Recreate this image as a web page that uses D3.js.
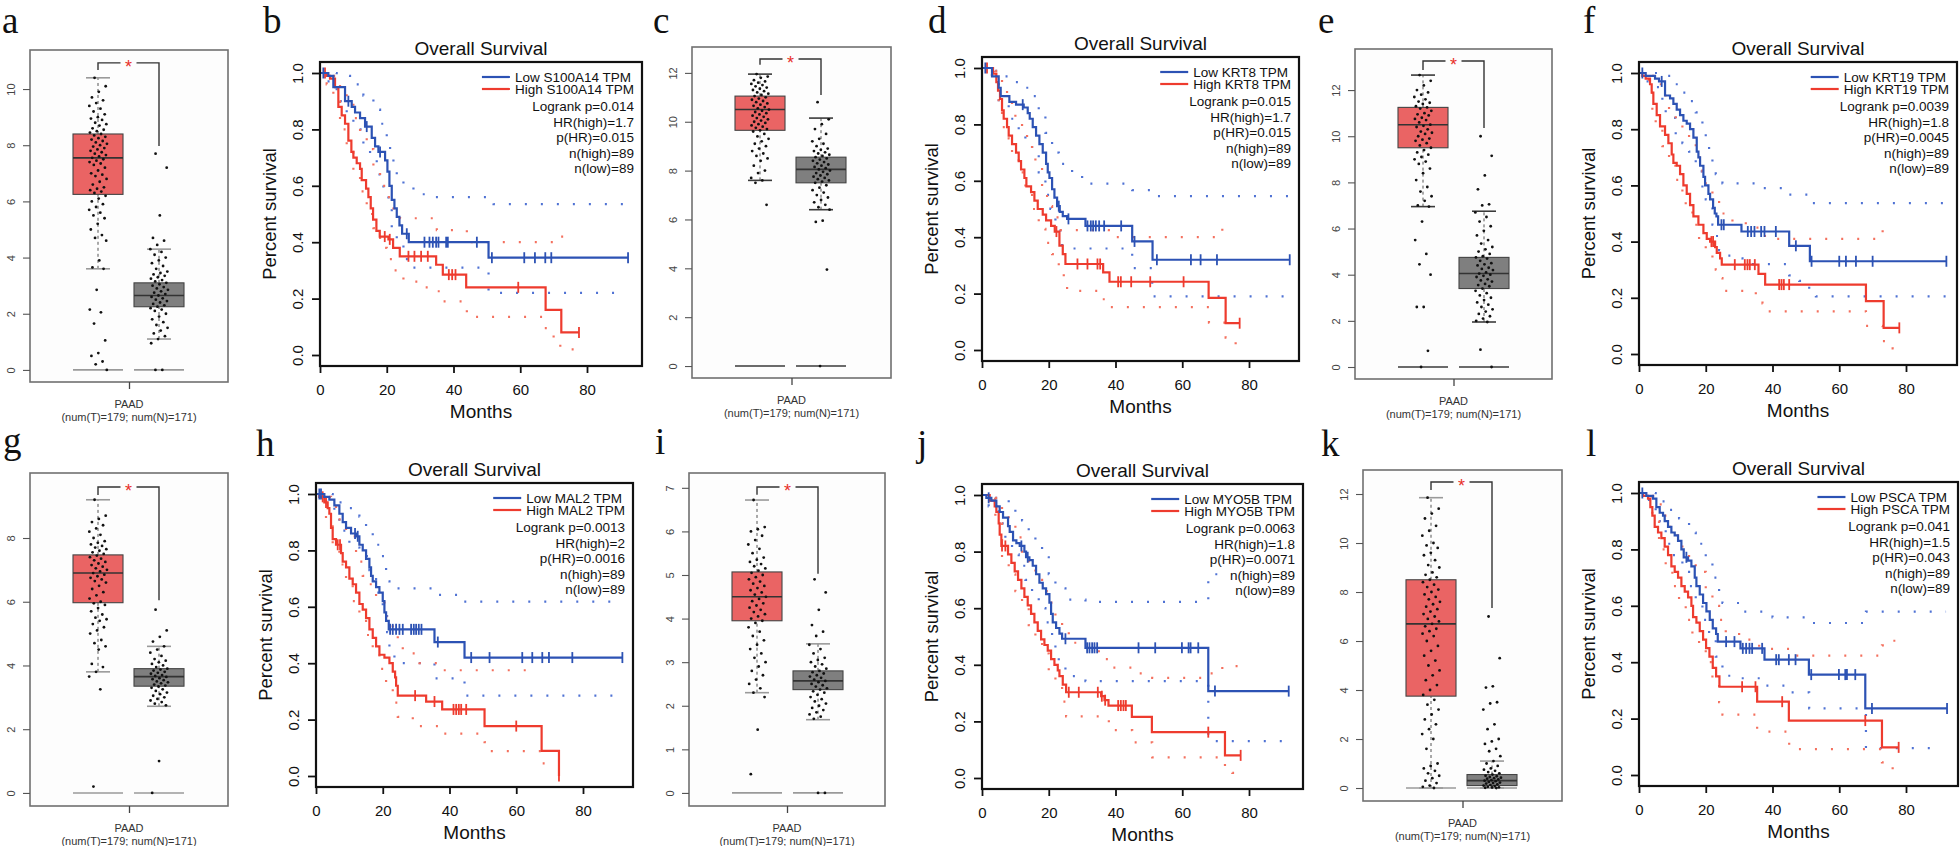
<!DOCTYPE html>
<html><head><meta charset="utf-8">
<script src="https://cdn.jsdelivr.net/npm/d3@7"></script>
<style>body{margin:0;background:#fff}svg{display:block}</style>
</head><body><svg id="fig" width="1960" height="846"></svg>
<script>
// ===================== DATA =====================
const groups = ["T", "N"];
const boxXLabel = "PAAD";
const boxXSub = "(num(T)=179; num(N)=171)";
const kmXTicks = [0, 20, 40, 60, 80];
const kmYTicks = [0, 0.2, 0.4, 0.6, 0.8, 1.0];
const kmTitle = "Overall Survival";
const kmXLabel = "Months";
const kmYLabel = "Percent survival";

// ---- box panels: jitter values, box stats [lowWhisker, Q1, median, Q3, highWhisker], bracket [T end, top, N end]
const a_T = [10.4,10.1,9.9,9.7,9.6,9.5,9.4,9.3,9.2,9.1,9.0,8.95,8.9,8.8,8.75,8.7,8.6,8.55,8.5,8.45,8.4,8.35,8.3,8.25,8.2,8.15,8.1,8.05,8.0,7.95,7.9,7.85,7.8,7.75,7.7,7.65,7.6,7.55,7.5,7.45,7.4,7.35,7.3,7.2,7.1,7.0,6.95,6.9,6.8,6.7,6.6,6.5,6.45,6.4,6.35,6.3,6.2,6.1,6.0,5.9,5.8,5.7,5.6,5.5,5.4,5.2,5.0,4.8,4.7,4.6,3.9,3.65,3.6,2.85,2.15,2.05,1.65,1.05,0.6,0.5,0.3,0.2,0];
const a_N = [7.7,7.2,5.5,4.7,4.6,4.45,4.3,4.2,4.1,4.0,3.9,3.8,3.7,3.6,3.5,3.45,3.4,3.35,3.3,3.25,3.2,3.15,3.1,3.05,3.0,2.95,2.9,2.85,2.8,2.75,2.7,2.65,2.6,2.55,2.5,2.45,2.4,2.35,2.3,2.25,2.2,2.15,2.1,2.0,1.9,1.8,1.7,1.6,1.5,1.4,1.3,1.2,1.1,0.95,0,0];
const a_boxT = [3.6, 6.25, 7.55, 8.4, 10.4];
const a_boxN = [1.1, 2.25, 2.65, 3.1, 4.3];
const a_bracket = [10.68, 10.93, 7.97];
const a_yTicks = [0, 2, 4, 6, 8, 10];

const c_T = [11.95,11.85,11.8,11.7,11.65,11.6,11.55,11.5,11.45,11.4,11.35,11.3,11.25,11.2,11.15,11.1,11.05,11.0,10.95,10.9,10.85,10.8,10.75,10.7,10.65,10.6,10.55,10.5,10.45,10.4,10.35,10.3,10.25,10.2,10.15,10.1,10.05,10.0,9.95,9.9,9.85,9.8,9.75,9.7,9.65,9.6,9.5,9.4,9.3,9.2,9.1,9.0,8.9,8.8,8.7,8.6,8.5,8.4,8.2,8.0,7.9,7.7,7.6,7.5,6.6];
const c_N = [10.8,10.1,9.9,9.7,9.5,9.3,9.2,9.1,9.0,8.9,8.85,8.8,8.75,8.7,8.65,8.6,8.55,8.5,8.45,8.4,8.35,8.3,8.25,8.2,8.15,8.1,8.05,8.0,7.95,7.9,7.85,7.8,7.75,7.7,7.65,7.6,7.55,7.5,7.4,7.3,7.2,7.1,7.0,6.9,6.8,6.7,6.6,6.5,6.4,5.95,5.9,3.95,0];
const c_boxT = [7.6, 9.65, 10.5, 11.05, 11.95];
const c_boxN = [6.4, 7.5, 8.05, 8.55, 10.15];
const c_bracket = [12.33, 12.57, 11.1];
const c_yTicks = [0, 2, 4, 6, 8, 10, 12];

const e_T = [12.65,12.4,12.2,12.0,11.9,11.8,11.7,11.6,11.5,11.45,11.4,11.3,11.25,11.2,11.1,11.0,10.95,10.9,10.8,10.75,10.7,10.6,10.5,10.45,10.4,10.3,10.2,10.15,10.1,10.0,9.9,9.85,9.8,9.7,9.6,9.5,9.4,9.3,9.2,9.1,9.0,8.9,8.8,8.6,8.4,8.1,7.8,7.6,7.4,7.2,7.0,6.95,6.3,5.5,4.9,4.45,4.0,2.6,2.6,0.7,0];
const e_N = [10.0,9.15,8.3,7.7,7.05,7.0,6.7,6.5,6.3,6.1,5.9,5.7,5.5,5.35,5.2,5.1,5.0,4.9,4.8,4.75,4.7,4.6,4.5,4.45,4.4,4.3,4.25,4.2,4.1,4.05,4.0,3.95,3.9,3.8,3.75,3.7,3.6,3.55,3.5,3.4,3.3,3.2,3.1,3.0,2.9,2.8,2.7,2.6,2.5,2.4,2.3,2.2,2.1,2.0,1.95,0.75,0];
const e_boxT = [6.95, 9.5, 10.5, 11.25, 12.65];
const e_boxN = [1.95, 3.4, 4.05, 4.75, 6.75];
const e_bracket = [12.87, 13.26, 10.36];
const e_yTicks = [0, 2, 4, 6, 8, 10, 12];

const g_T = [9.2,8.7,8.6,8.5,8.4,8.3,8.2,8.1,8.0,7.9,7.85,7.8,7.75,7.7,7.65,7.6,7.55,7.5,7.45,7.4,7.35,7.3,7.25,7.2,7.15,7.1,7.05,7.0,6.95,6.9,6.85,6.8,6.75,6.7,6.65,6.6,6.5,6.4,6.3,6.2,6.1,6.0,5.95,5.9,5.8,5.7,5.6,5.5,5.45,5.4,5.3,5.2,5.1,5.0,4.8,4.7,4.6,4.5,4.05,3.95,3.8,3.65,3.25,0.2];
const g_N = [5.75,5.1,4.9,4.75,4.6,4.5,4.4,4.3,4.2,4.15,4.1,4.05,4.0,3.95,3.9,3.87,3.84,3.8,3.77,3.74,3.7,3.67,3.64,3.6,3.57,3.54,3.5,3.47,3.44,3.4,3.37,3.34,3.3,3.25,3.2,3.15,3.1,3.05,3.0,2.95,2.9,2.85,2.8,2.75,1.0,0];
const g_boxT = [3.8, 5.97, 6.9, 7.47, 9.2];
const g_boxN = [2.72, 3.35, 3.65, 3.9, 4.6];
const g_bracket = [9.35, 9.6, 6.05];
const g_yTicks = [0, 2, 4, 6, 8];

const i_T = [6.72,6.1,6.05,6.0,5.9,5.8,5.7,5.6,5.5,5.4,5.35,5.3,5.25,5.2,5.15,5.1,5.05,5.0,4.95,4.9,4.85,4.8,4.75,4.7,4.65,4.6,4.55,4.5,4.45,4.4,4.35,4.3,4.25,4.2,4.15,4.1,4.05,4.0,3.95,3.9,3.8,3.7,3.6,3.5,3.4,3.3,3.2,3.1,3.0,2.9,2.8,2.7,2.6,2.5,2.4,2.3,2.2,1.45,0.43];
const i_N = [4.9,4.6,4.2,3.85,3.7,3.6,3.4,3.3,3.2,3.1,3.05,3.0,2.95,2.9,2.85,2.8,2.77,2.74,2.7,2.67,2.64,2.6,2.57,2.54,2.5,2.47,2.44,2.4,2.37,2.33,2.3,2.25,2.2,2.15,2.1,2.05,2.0,1.95,1.9,1.85,1.8,1.75,1.7,0,0];
const i_boxT = [2.3, 3.95, 4.5, 5.07, 6.72];
const i_boxN = [1.68, 2.37, 2.57, 2.8, 3.42];
const i_bracket = [6.84, 7.02, 5.03];
const i_yTicks = [0, 1, 2, 3, 4, 5, 6, 7];

const k_T = [11.85,11.4,11.2,11.0,10.7,10.5,10.3,10.0,9.9,9.8,9.6,9.5,9.3,9.1,9.0,8.8,8.7,8.6,8.5,8.4,8.3,8.2,8.1,8.0,7.9,7.8,7.7,7.6,7.5,7.4,7.3,7.2,7.1,7.0,6.9,6.8,6.7,6.6,6.5,6.4,6.3,6.2,6.0,5.8,5.6,5.4,5.2,5.0,4.8,4.6,4.4,4.2,4.0,3.8,3.6,3.4,3.2,3.0,2.8,2.6,2.4,2.2,2.0,1.6,1.0,0.9,0.8,0.7,0.6,0.5,0.4,0.3,0.2,0.1,0.05,0];
const k_N = [7.0,5.3,4.15,4.1,3.5,3.45,3.2,2.6,2.4,2.0,1.9,1.8,1.6,1.5,1.3,1.1,1.0,0.9,0.8,0.75,0.7,0.65,0.6,0.55,0.5,0.48,0.45,0.42,0.4,0.38,0.35,0.32,0.3,0.28,0.25,0.22,0.2,0.18,0.15,0.12,0.1,0.08,0.05,0.03,0.02,0.01,0];
const k_boxT = [0, 3.75, 6.7, 8.5, 11.85];
const k_boxN = [0, 0.1, 0.3, 0.55, 1.1];
const k_bracket = [12.16, 12.49, 7.35];
const k_yTicks = [0, 2, 4, 6, 8, 10, 12];

// ---- Kaplan-Meier panels: steps [month, survival], censor months, CI bounds [month, survival]
const b_legend = ["Low S100A14 TPM", "High S100A14 TPM"];
const b_stats = ["Logrank p=0.014", "HR(high)=1.7", "p(HR)=0.015", "n(high)=89", "n(low)=89"];
const b_lowSteps = [[0,1],[2.5,0.99],[4,0.95],[7.5,0.9],[9.5,0.88],[10.5,0.86],[12,0.84],[13.5,0.81],[15.5,0.77],[16.5,0.74],[17.5,0.72],[19.5,0.69],[20.2,0.65],[20.8,0.6],[21.5,0.55],[22.3,0.52],[23,0.49],[23.8,0.46],[24.6,0.43],[26.6,0.40],[50.5,0.345]];
const b_highSteps = [[0,1],[2,0.99],[3,0.98],[4.5,0.95],[5.5,0.88],[6.5,0.85],[7.5,0.82],[8.5,0.76],[9.4,0.72],[10,0.70],[11,0.68],[12,0.66],[12.5,0.62],[13.8,0.59],[14.5,0.56],[15.2,0.52],[15.9,0.48],[16.9,0.44],[17.9,0.42],[20.5,0.41],[21.9,0.38],[23.9,0.35],[34.8,0.32],[36.8,0.285],[43.8,0.24],[67.6,0.16],[72.3,0.08]];
const b_lowCens = [1,8.5,14,18,26,31.3,32.8,33.8,34.8,35.5,37.8,38.3,47,51.5,61.2,64.4,67.5,69.3,92.3];
const b_highCens = [1.5,19.4,20.9,26.5,28.3,30.3,32.3,38.6,39.6,40.6,59.4,77.6];
const b_lowUpper = [[0,1],[5,0.99],[9,0.96],[13,0.92],[16,0.87],[18,0.82],[20,0.77],[21,0.72],[22,0.67],[23,0.64],[25,0.6],[28,0.57],[32,0.56],[52,0.535],[92,0.535]];
const b_lowLower = [[0,1],[2,0.97],[5,0.9],[8,0.84],[10,0.8],[13,0.74],[15,0.7],[17,0.64],[19,0.58],[20.5,0.52],[21.5,0.45],[23,0.4],[25,0.34],[27,0.31],[50.5,0.22],[92,0.22]];
const b_highUpper = [[0,1],[4,0.99],[6,0.95],[8,0.9],[10,0.84],[12,0.79],[14,0.73],[16,0.67],[18,0.6],[20,0.56],[22,0.52],[24,0.485],[35,0.443],[44,0.40],[70,0.42],[74,0.42]];
const b_highLower = [[0,1],[2,0.96],[4,0.9],[6,0.8],[8,0.72],[10,0.65],[12,0.58],[14,0.5],[16,0.45],[18,0.38],[20,0.34],[22,0.3],[25,0.26],[30,0.24],[35,0.226],[37,0.19],[44,0.135],[67,0.095],[70,0.06],[72,0.02],[76,0.02]];

const d_legend = ["Low KRT8 TPM", "High KRT8 TPM"];
const d_stats = ["Logrank p=0.015", "HR(high)=1.7", "p(HR)=0.015", "n(high)=89", "n(low)=89"];
const d_lowSteps = [[0,1],[3,0.97],[5,0.93],[5.6,0.9],[8.2,0.88],[10.2,0.87],[12.5,0.86],[13.7,0.84],[14.3,0.82],[15.2,0.79],[16.2,0.76],[17.2,0.73],[18.2,0.70],[19.2,0.66],[19.7,0.63],[20.2,0.61],[21,0.57],[21.7,0.54],[22.5,0.51],[23.3,0.49],[24.2,0.475],[25.5,0.465],[31,0.44],[45,0.385],[51.1,0.32]];
const d_highSteps = [[0,1],[3.3,0.98],[4.3,0.95],[4.8,0.92],[5.4,0.89],[6,0.85],[6.5,0.82],[7.5,0.79],[8,0.76],[9,0.73],[10.2,0.7],[11,0.67],[11.7,0.64],[12.7,0.61],[13.3,0.58],[14.7,0.56],[15.7,0.53],[16.7,0.5],[18.2,0.48],[19.2,0.46],[20.7,0.44],[21.8,0.42],[23.2,0.37],[24.2,0.34],[25,0.305],[36.3,0.275],[38.2,0.242],[67.9,0.185],[73,0.095]];
const d_lowCens = [1,12.2,23,25.9,31.6,32.6,33.3,34.1,35.1,36.6,41.7,45.7,52.4,62.6,65.5,70.4,92.2];
const d_highCens = [1.5,22.3,28.6,31.6,34.6,35.4,40.8,41.6,44.7,50.4,60.4,77.2];
const d_lowUpper = [[0,1],[4,0.99],[7,0.97],[10,0.95],[13,0.93],[15,0.9],[17,0.84],[19,0.77],[21,0.7],[23,0.66],[27,0.63],[30,0.61],[31,0.59],[45,0.567],[51,0.546],[92,0.546]];
const d_lowLower = [[0,1],[3,0.95],[5,0.88],[8,0.82],[11,0.78],[13,0.74],[15,0.7],[17,0.63],[19,0.55],[20.5,0.5],[22,0.44],[23.5,0.39],[24,0.36],[45,0.29],[51,0.19],[92,0.19]];
const d_highUpper = [[0,1],[4,0.99],[6,0.95],[7.5,0.9],[9,0.85],[10,0.815],[12,0.78],[13.5,0.75],[15,0.7],[16,0.66],[18,0.58],[19.5,0.51],[21,0.47],[23,0.425],[38,0.40],[72,0.45],[73.6,0.45]];
const d_highLower = [[0,1],[3,0.95],[5,0.88],[6,0.79],[8,0.75],[9,0.7],[11,0.63],[13,0.56],[15,0.5],[17,0.43],[19,0.38],[21,0.34],[23,0.29],[24.5,0.25],[25.5,0.21],[36,0.18],[38,0.152],[68,0.097],[73,0.044],[76,0.02],[76.5,0.02]];

const f_legend = ["Low KRT19 TPM", "High KRT19 TPM"];
const f_stats = ["Logrank p=0.0039", "HR(high)=1.8", "p(HR)=0.0045", "n(high)=89", "n(low)=89"];
const f_lowSteps = [[0,1],[2,0.99],[4.8,0.98],[6,0.97],[7.8,0.92],[9.3,0.91],[10.3,0.89],[11.3,0.87],[12.3,0.85],[13.3,0.83],[14.3,0.82],[15.3,0.8],[16.3,0.77],[17.3,0.72],[17.8,0.7],[18.3,0.67],[19.3,0.63],[19.8,0.6],[20.8,0.57],[21.3,0.55],[22.2,0.52],[22.7,0.5],[23.2,0.49],[23.7,0.46],[30.7,0.436],[45,0.385],[51.2,0.33]];
const f_highSteps = [[0,1],[1,0.99],[2,0.98],[3.3,0.96],[3.8,0.93],[4.3,0.89],[5.3,0.85],[6.3,0.81],[7.8,0.78],[8.8,0.75],[9.8,0.71],[10.3,0.68],[11.3,0.67],[12.3,0.64],[13.3,0.6],[14.3,0.57],[15.3,0.53],[16.3,0.49],[17.8,0.46],[19.3,0.43],[20.3,0.41],[21.3,0.4],[22.8,0.38],[23.3,0.36],[24.3,0.34],[24.8,0.318],[35.8,0.285],[37.8,0.247],[68,0.188],[73.3,0.093]];
const f_lowCens = [1,6.8,24.7,25.4,32.6,33.6,34.6,36.6,37.6,41,47,51.7,60,62,65,70,92.1];
const f_highCens = [21.7,22.2,28.7,31.7,32.5,33.2,34.7,42,42.7,43.4,45,78];
const f_lowUpper = [[0,1],[6,0.99],[10,0.96],[13,0.93],[15,0.9],[17,0.86],[19,0.8],[20,0.76],[21,0.72],[22,0.68],[23,0.64],[25,0.607],[36,0.59],[44,0.567],[51,0.537],[92,0.537]];
const f_lowLower = [[0,1],[2,0.97],[5,0.95],[7,0.88],[8,0.84],[11,0.78],[13,0.75],[15,0.72],[17,0.65],[19,0.58],[20,0.55],[22,0.46],[23,0.42],[24,0.37],[25,0.35],[28,0.34],[31,0.32],[45,0.28],[48,0.26],[51,0.23],[53,0.205],[92,0.205]];
const f_highUpper = [[0,1],[3,0.99],[5,0.96],[7,0.92],[9,0.87],[11,0.83],[13,0.8],[15,0.76],[17,0.7],[19,0.65],[20,0.6],[22,0.57],[24,0.53],[25,0.5],[28,0.47],[32,0.46],[35,0.45],[37,0.42],[40,0.41],[73,0.45],[74.5,0.45]];
const f_highLower = [[0,1],[3,0.94],[4,0.86],[5,0.8],[7,0.74],[9,0.67],[11,0.62],[13,0.57],[14,0.52],[16,0.46],[18,0.4],[20,0.37],[22,0.33],[23,0.3],[24,0.27],[25,0.225],[35,0.21],[37,0.18],[38,0.152],[68,0.1],[73,0.046],[76,0.02],[76.5,0.02]];

const h_legend = ["Low MAL2 TPM", "High MAL2 TPM"];
const h_stats = ["Logrank p=0.0013", "HR(high)=2", "p(HR)=0.0016", "n(high)=89", "n(low)=89"];
const h_lowSteps = [[0,1],[2.5,0.99],[4,0.98],[5.5,0.96],[7,0.93],[8,0.9],[9,0.88],[10.5,0.86],[12,0.85],[13,0.82],[14,0.8],[15,0.77],[16,0.74],[16.5,0.71],[17,0.69],[18,0.67],[19,0.65],[20,0.62],[20.5,0.58],[21,0.55],[21.8,0.52],[35.5,0.475],[44.5,0.42]];
const h_highSteps = [[0,1],[1,0.99],[2.5,0.97],[3.5,0.95],[4,0.93],[4.5,0.88],[5,0.84],[6,0.82],[7.5,0.79],[8,0.76],[9,0.74],[10,0.7],[11,0.68],[12,0.65],[13,0.61],[14,0.59],[15,0.56],[16,0.52],[17,0.49],[18,0.46],[19,0.43],[20.5,0.42],[22,0.4],[23,0.37],[23.7,0.35],[24,0.32],[24.5,0.285],[33,0.264],[37.8,0.236],[50.5,0.177],[67.6,0.089],[72.8,0]];
const h_lowCens = [1,1.5,11.7,12.5,22.2,23,24,25,26,28.5,29.3,30,30.8,31.6,36.5,46.5,52,61.8,64.8,67.8,69.8,76.8,91.8];
const h_highCens = [2,3,6.5,7.2,29.7,35.5,41.2,42,42.8,43.5,45,60,72.8];
const h_lowUpper = [[0,1],[5,0.99],[7,0.97],[10,0.95],[13,0.92],[15,0.87],[17,0.82],[19.5,0.78],[20.5,0.74],[21,0.69],[22,0.665],[36,0.642],[44,0.618],[90,0.618]];
const h_lowLower = [[0,1],[3,0.97],[5.5,0.94],[7,0.87],[10,0.81],[13,0.78],[16,0.73],[18,0.65],[20,0.59],[21.3,0.51],[22,0.45],[23.5,0.41],[25,0.4],[35.5,0.346],[44.5,0.285],[90,0.285]];
const h_highUpper = [[0,1],[4,0.99],[4.5,0.96],[6,0.91],[9,0.85],[12,0.76],[14,0.71],[16,0.68],[18,0.62],[20.5,0.565],[23,0.5],[24.5,0.46],[26,0.435],[31,0.4],[38,0.375],[67,0.375]];
const h_highLower = [[0,1],[3,0.9],[5,0.82],[7,0.75],[9,0.68],[11,0.62],[13,0.56],[15,0.5],[17,0.44],[19,0.38],[21,0.33],[23,0.26],[24.5,0.21],[29,0.177],[37.8,0.15],[50.5,0.12],[52,0.088],[67.6,0.045],[68.5,0.045]];

const j_legend = ["Low MYO5B TPM", "High MYO5B TPM"];
const j_stats = ["Logrank p=0.0063", "HR(high)=1.8", "p(HR)=0.0071", "n(high)=89", "n(low)=89"];
const j_lowSteps = [[0,1],[1.3,0.99],[2.8,0.98],[4.3,0.96],[5.3,0.94],[6.3,0.92],[7.8,0.89],[8.3,0.87],[9.3,0.84],[10.3,0.83],[11.3,0.82],[12.7,0.8],[13.2,0.78],[14.2,0.77],[15.2,0.75],[16.2,0.72],[17.2,0.69],[18.2,0.67],[19.2,0.65],[20.2,0.62],[20.7,0.58],[21.2,0.55],[22.2,0.53],[23.2,0.51],[24,0.492],[31,0.46],[67.8,0.307]];
const j_highSteps = [[0,1],[2.3,0.98],[3.8,0.96],[4.3,0.94],[5,0.9],[5.3,0.86],[5.8,0.82],[7.8,0.79],[8.8,0.76],[9.8,0.73],[10.8,0.7],[11.8,0.67],[12.7,0.64],[13.7,0.61],[14.7,0.58],[15.7,0.55],[16.7,0.52],[17.7,0.49],[18.7,0.47],[19.7,0.45],[20.7,0.42],[21.7,0.4],[22.7,0.38],[23.2,0.36],[24.2,0.33],[25.2,0.303],[35.7,0.289],[36.7,0.275],[37.9,0.256],[44.9,0.216],[50.9,0.162],[72.8,0.08]];
const j_lowCens = [2,11.8,13.7,25,31.5,32.2,33,33.7,34.5,46.9,51.9,59.9,61.9,62.5,64.8,69.8,91.9];
const j_highCens = [6,7,26,29,34.7,35.9,36.9,40.8,41.6,42.4,43.1,67.8,77.5];
const j_lowUpper = [[0,1],[4,0.99],[8,0.97],[10,0.94],[12,0.91],[14,0.87],[16,0.82],[18,0.78],[20,0.72],[22,0.67],[25,0.63],[31,0.622],[67.8,0.72],[71,0.72]];
const j_lowLower = [[0,1],[2,0.96],[5,0.9],[7,0.84],[9,0.79],[11,0.75],[13,0.7],[15,0.65],[17,0.6],[19,0.55],[21,0.48],[22,0.44],[23,0.41],[25,0.36],[31,0.342],[67.8,0.13],[90,0.13]];
const j_highUpper = [[0,1],[3,0.99],[6,0.95],[8,0.9],[10,0.85],[12,0.8],[14,0.75],[16,0.7],[18,0.66],[20,0.62],[22,0.56],[24,0.52],[26,0.478],[30,0.46],[35,0.42],[38,0.39],[45,0.37],[51,0.354],[68,0.37],[72,0.395],[77,0.395]];
const j_highLower = [[0,1],[4,0.9],[6,0.78],[8,0.72],[10,0.66],[12,0.6],[14,0.54],[16,0.48],[18,0.44],[20,0.38],[22,0.33],[24,0.27],[25.2,0.218],[38,0.169],[45,0.126],[51,0.073],[72.8,0.04],[75,0.018],[76,0.018]];

const l_legend = ["Low PSCA TPM", "High PSCA TPM"];
const l_stats = ["Logrank p=0.041", "HR(high)=1.5", "p(HR)=0.043", "n(high)=89", "n(low)=89"];
const l_lowSteps = [[0,1],[2.2,0.99],[4.2,0.98],[5.2,0.95],[6.2,0.93],[7.2,0.92],[7.7,0.9],[8.7,0.88],[9.7,0.86],[10.7,0.85],[11.7,0.83],[12.7,0.8],[13.4,0.772],[14.7,0.76],[15.7,0.74],[16.7,0.7],[17.2,0.67],[18.2,0.64],[19.2,0.61],[20.2,0.58],[21.2,0.55],[22.1,0.52],[23.1,0.5],[23.6,0.473],[30.4,0.449],[37.6,0.409],[50.9,0.356],[67.8,0.236]];
const l_highSteps = [[0,1],[1.2,0.99],[2.7,0.98],[3.4,0.95],[4,0.92],[4.7,0.88],[5.7,0.86],[6.7,0.84],[7.7,0.81],[8.7,0.78],[9.7,0.74],[10.7,0.72],[11.7,0.7],[12.7,0.67],[13.7,0.65],[14.7,0.63],[15.7,0.6],[16.2,0.56],[17.2,0.54],[18.2,0.51],[19.2,0.48],[20.1,0.45],[21.1,0.42],[22.1,0.38],[23.1,0.35],[24.1,0.313],[35.4,0.26],[44.9,0.193],[72.8,0.098]];
const l_lowCens = [1,14.2,26.1,28.6,31.1,32.1,33.1,33.9,36.9,41.1,41.9,44.9,46.9,51.6,59.9,61.8,62.3,64.8,69.8,92.3];
const l_highCens = [30.9,34.9,42.9,67.8,77.8];
const l_lowUpper = [[0,1],[5,0.98],[7,0.97],[9,0.94],[12,0.91],[15,0.86],[17,0.82],[20,0.75],[22,0.7],[24,0.65],[25,0.61],[30,0.579],[40,0.559],[52,0.539],[68,0.579],[92,0.579]];
const l_lowLower = [[0,1],[3,0.96],[5,0.9],[8,0.82],[10,0.78],[13,0.72],[15,0.67],[17,0.62],[19,0.55],[21,0.48],[23,0.42],[25,0.352],[30,0.343],[38,0.317],[45,0.293],[51,0.236],[68,0.095],[88,0.095]];
const l_highUpper = [[0,1],[3,0.99],[5,0.96],[7,0.92],[9,0.88],[11,0.85],[13,0.8],[15,0.76],[17,0.72],[20,0.65],[22,0.6],[24,0.55],[26,0.5],[30,0.48],[36,0.447],[45,0.423],[72.8,0.46],[76,0.476],[77,0.476]];
const l_highLower = [[0,1],[4,0.9],[6,0.8],[8,0.74],[10,0.67],[12,0.62],[14,0.55],[16,0.5],[18,0.45],[20,0.4],[22,0.33],[24,0.258],[25,0.214],[35.4,0.154],[45,0.092],[72.8,0.045],[76,0.02],[76.5,0.02]];

// ===================== LAYOUT (pixels) =====================
const boxLayout = [
  {id:"a", x0:30,  x1:228,  y0:50,  y1:382, dom:[-0.43,11.39], cap:"#9a9a9a", lab:[2,33],   T:a_T, N:a_N, bT:a_boxT, bN:a_boxN, br:a_bracket, ticks:a_yTicks},
  {id:"c", x0:692, x1:891,  y0:47,  y1:378, dom:[-0.49,13.06], cap:"#3a3a3a", lab:[653,33], T:c_T, N:c_N, bT:c_boxT, bN:c_boxN, br:c_bracket, ticks:c_yTicks},
  {id:"e", x0:1355,x1:1552, y0:49,  y1:379, dom:[-0.52,13.78], cap:"#3a3a3a", lab:[1318,33],T:e_T, N:e_N, bT:e_boxT, bN:e_boxN, br:e_bracket, ticks:e_yTicks},
  {id:"g", x0:30,  x1:228,  y0:473, y1:806, dom:[-0.41,10.04], cap:"#9a9a9a", lab:[3,453],  T:g_T, N:g_N, bT:g_boxT, bN:g_boxN, br:g_bracket, ticks:g_yTicks},
  {id:"i", x0:689, x1:885,  y0:473, y1:806, dom:[-0.30,7.34],  cap:"#9a9a9a", lab:[655,454],T:i_T, N:i_N, bT:i_boxT, bN:i_boxN, br:i_bracket, ticks:i_yTicks},
  {id:"k", x0:1363,x1:1562, y0:470, y1:801, dom:[-0.53,12.98], cap:"#9a9a9a", lab:[1321,456],T:k_T, N:k_N, bT:k_boxT, bN:k_boxN, br:k_bracket, ticks:k_yTicks}
];
const kmLayout = [
  {id:"b", x0:320, x1:642,  y0:62,  y1:366, lab:[263,33],  leg:b_legend, st:b_stats, lo:b_lowSteps, hi:b_highSteps, loC:b_lowCens, hiC:b_highCens, loU:b_lowUpper, loL:b_lowLower, hiU:b_highUpper, hiL:b_highLower},
  {id:"d", x0:982, x1:1299, y0:57,  y1:361, lab:[928,33],  leg:d_legend, st:d_stats, lo:d_lowSteps, hi:d_highSteps, loC:d_lowCens, hiC:d_highCens, loU:d_lowUpper, loL:d_lowLower, hiU:d_highUpper, hiL:d_highLower},
  {id:"f", x0:1639,x1:1957, y0:62,  y1:365, lab:[1583,33], leg:f_legend, st:f_stats, lo:f_lowSteps, hi:f_highSteps, loC:f_lowCens, hiC:f_highCens, loU:f_lowUpper, loL:f_lowLower, hiU:f_highUpper, hiL:f_highLower},
  {id:"h", x0:316, x1:633,  y0:483, y1:787, lab:[256,456], leg:h_legend, st:h_stats, lo:h_lowSteps, hi:h_highSteps, loC:h_lowCens, hiC:h_highCens, loU:h_lowUpper, loL:h_lowLower, hiU:h_highUpper, hiL:h_highLower},
  {id:"j", x0:982, x1:1303, y0:484, y1:789, lab:[917,456], leg:j_legend, st:j_stats, lo:j_lowSteps, hi:j_highSteps, loC:j_lowCens, hiC:j_highCens, loU:j_lowUpper, loL:j_lowLower, hiU:j_highUpper, hiL:j_highLower},
  {id:"l", x0:1639,x1:1958, y0:482, y1:786, lab:[1586,456], leg:l_legend, st:l_stats, lo:l_lowSteps, hi:l_highSteps, loC:l_lowCens, hiC:l_highCens, loU:l_lowUpper, loL:l_lowLower, hiU:l_highUpper, hiL:l_highLower}
];

// ===================== DRAWING =====================
const SANS = '"Liberation Sans", Arial, Helvetica, sans-serif';
const SERIF = '"Liberation Serif", "Times New Roman", serif';
const BLUE = "#2c52b4", RED = "#ee3b2e", BLUE_CI = "#4f72d4", RED_CI = "#f4705e";
const svg = d3.select("#fig").attr("font-family", SANS);

function panelLabel(letter, pos) {
  svg.append("text").attr("x", pos[0]).attr("y", pos[1]).attr("font-family", SERIF)
    .attr("font-size", 37).attr("fill", "#111").text(letter);
}

function drawBox(p) {
  const g = svg.append("g");
  const y = d3.scaleLinear().domain(p.dom).range([p.y1, p.y0]);
  const x = d3.scalePoint().domain(groups).range([p.x0 + 68, p.x0 + 129]);
  const hw = 25, capHw = 12;
  panelLabel(p.id, p.lab);
  g.append("rect").attr("x", p.x0).attr("y", p.y0).attr("width", p.x1 - p.x0).attr("height", p.y1 - p.y0)
    .attr("fill", "#fdfdfd").attr("stroke", "#707070").attr("stroke-width", 1.6);
  const ax = g.append("g").attr("transform", `translate(${p.x0},0)`)
    .call(d3.axisLeft(y).tickValues(p.ticks).tickSize(7).tickFormat(d3.format("d")));
  ax.select(".domain").remove();
  ax.selectAll("line").attr("stroke", "#555").attr("stroke-width", 1.1);
  ax.selectAll("text").attr("x", -15).attr("dy", 0).attr("text-anchor", "middle")
    .attr("transform", "rotate(-90,-15,0)").attr("font-size", 11).attr("fill", "#444").attr("font-family", SANS);
  const xs = d3.scalePoint().domain([boxXLabel]).range([p.x0, p.x1]).padding(0.5);
  const xa = g.append("g").attr("transform", `translate(0,${p.y1})`).call(d3.axisBottom(xs).tickSize(7));
  xa.select(".domain").remove();
  xa.selectAll("line").attr("stroke", "#444").attr("stroke-width", 1.3);
  xa.selectAll("text").remove();
  g.append("text").attr("x", xs(boxXLabel)).attr("y", p.y1 + 26).attr("text-anchor", "middle")
    .attr("font-size", 11).attr("fill", "#333").text(boxXLabel);
  g.append("text").attr("x", xs(boxXLabel)).attr("y", p.y1 + 39).attr("text-anchor", "middle")
    .attr("font-size", 11).attr("fill", "#333").text(boxXSub);

  const stats = {T: p.bT, N: p.bN};
  const fills = {T: "#ea6464", N: "#7f7f7f"};
  groups.forEach(k => {
    const cx = x(k), s = stats[k];
    g.append("line").attr("x1", cx - hw).attr("x2", cx + hw).attr("y1", y(0)).attr("y2", y(0))
      .attr("stroke", p.cap).attr("stroke-width", 1.6);
    g.append("line").attr("x1", cx).attr("x2", cx).attr("y1", y(s[0])).attr("y2", y(s[1]))
      .attr("stroke", "#555").attr("stroke-dasharray", "3,3");
    g.append("line").attr("x1", cx).attr("x2", cx).attr("y1", y(s[3])).attr("y2", y(s[4]))
      .attr("stroke", "#555").attr("stroke-dasharray", "3,3");
    [s[0], s[4]].forEach(v => g.append("line").attr("x1", cx - capHw).attr("x2", cx + capHw)
      .attr("y1", y(v)).attr("y2", y(v)).attr("stroke", p.cap).attr("stroke-width", 1.6));
    g.append("rect").attr("x", cx - hw).attr("width", 2 * hw).attr("y", y(s[3])).attr("height", y(s[1]) - y(s[3]))
      .attr("fill", fills[k]).attr("stroke", "#444").attr("stroke-width", 1.1);
    g.append("line").attr("x1", cx - hw).attr("x2", cx + hw).attr("y1", y(s[2])).attr("y2", y(s[2]))
      .attr("stroke", "#333").attr("stroke-width", 1.6);
  });
  groups.forEach(k => {
    const vals = p[k];
    g.selectAll(null).data(vals).enter().append("circle")
      .attr("cx", (d, i) => x(k) + (((i * 0.6180339887 + 0.31) % 1) - 0.5) * 18)
      .attr("cy", d => y(d)).attr("r", 1.4).attr("fill", "#111");
  });
  const xm = (x("T") + x("N")) / 2, yt = y(p.br[1]);
  g.append("path").attr("d", `M${x("T")},${y(p.br[0])}V${yt}H${xm - 8}M${xm + 8},${yt}H${x("N")}V${y(p.br[2])}`)
    .attr("fill", "none").attr("stroke", "#333").attr("stroke-width", 1.4);
  g.append("text").attr("x", xm).attr("y", yt + 10).attr("text-anchor", "middle").attr("font-size", 18)
    .attr("fill", "#e8302a").text("*");
}

function stepAt(steps, t) {
  let s = steps[0][1];
  for (const [tt, ss] of steps) { if (tt <= t) s = ss; else break; }
  return s;
}

function drawKM(p) {
  const g = svg.append("g");
  panelLabel(p.id, p.lab);
  const x = d3.scaleLinear().domain([0, 80]).range([p.x0, p.x0 + 267]);
  const y = d3.scaleLinear().domain([0, 1]).range([p.y1 - 11, p.y0 + 11]);
  const line = d3.line().x(d => x(d[0])).y(d => y(d[1])).curve(d3.curveStepAfter);
  g.append("rect").attr("x", p.x0).attr("y", p.y0).attr("width", p.x1 - p.x0).attr("height", p.y1 - p.y0).attr("fill", "#fff");
  [[p.loU, BLUE_CI], [p.loL, BLUE_CI], [p.hiU, RED_CI], [p.hiL, RED_CI]].forEach(([d, c]) => {
    g.append("path").attr("d", line(d)).attr("fill", "none").attr("stroke", c).attr("stroke-width", 2.2)
      .attr("stroke-dasharray", "2,14");
  });
  [[p.hi, p.hiC, RED], [p.lo, p.loC, BLUE]].forEach(([steps, cens, c]) => {
    const end = d3.max(cens);
    const pts = steps.concat([[end, stepAt(steps, end)]]);
    g.append("path").attr("d", line(pts)).attr("fill", "none").attr("stroke", c).attr("stroke-width", 2.2);
    g.selectAll(null).data(cens).enter().append("line")
      .attr("x1", d => x(d)).attr("x2", d => x(d))
      .attr("y1", d => y(stepAt(steps, d)) - 5.5).attr("y2", d => y(stepAt(steps, d)) + 5.5)
      .attr("stroke", c).attr("stroke-width", 1.8);
  });
  g.append("rect").attr("x", p.x0).attr("y", p.y0).attr("width", p.x1 - p.x0).attr("height", p.y1 - p.y0)
    .attr("fill", "none").attr("stroke", "#111").attr("stroke-width", 2.2);
  const xa = g.append("g").attr("transform", `translate(0,${p.y1})`)
    .call(d3.axisBottom(x).tickValues(kmXTicks).tickSize(7).tickPadding(11).tickFormat(d3.format("d")));
  xa.select(".domain").remove();
  xa.selectAll("line").attr("stroke", "#111").attr("stroke-width", 1.8);
  xa.selectAll("text").attr("font-size", 15).attr("fill", "#111").attr("font-family", SANS);
  const ya = g.append("g").attr("transform", `translate(${p.x0},0)`)
    .call(d3.axisLeft(y).tickValues(kmYTicks).tickSize(8).tickFormat(d3.format(".1f")));
  ya.select(".domain").remove();
  ya.selectAll("line").attr("stroke", "#111").attr("stroke-width", 1.8);
  ya.selectAll("text").attr("x", -17).attr("dy", 0).attr("text-anchor", "middle")
    .attr("transform", "rotate(-90,-17,0)").attr("font-size", 15).attr("fill", "#111").attr("font-family", SANS);
  const cx = (p.x0 + p.x1) / 2, cy = (p.y0 + p.y1) / 2;
  g.append("text").attr("x", cx).attr("y", p.y0 - 7).attr("text-anchor", "middle").attr("font-size", 19)
    .attr("fill", "#111").text(kmTitle);
  g.append("text").attr("x", cx).attr("y", p.y1 + 52).attr("text-anchor", "middle").attr("font-size", 19)
    .attr("fill", "#111").text(kmXLabel);
  g.append("text").attr("transform", `translate(${p.x0 - 44},${cy}) rotate(-90)`).attr("text-anchor", "middle")
    .attr("font-size", 18.5).attr("fill", "#111").text(kmYLabel);
  const right = p.x1 - 8;
  const rows = [15, 27, 44, 60, 75, 91, 106];
  const tmp = g.append("text").attr("font-size", 13.5).text(p.leg[1]);
  const wHigh = tmp.node().getComputedTextLength(); tmp.remove();
  const left = right - wHigh;
  [[p.leg[0], BLUE], [p.leg[1], RED]].forEach(([t, c], i) => {
    const yy = p.y0 + rows[i];
    g.append("line").attr("x1", left - 33).attr("x2", left - 5).attr("y1", yy).attr("y2", yy)
      .attr("stroke", c).attr("stroke-width", 2.2);
    g.append("text").attr("x", left).attr("y", yy + 5).attr("font-size", 13.5).attr("fill", "#111").text(t);
  });
  p.st.forEach((t, i) => {
    g.append("text").attr("x", right).attr("y", p.y0 + rows[i + 2] + 5).attr("text-anchor", "end")
      .attr("font-size", 13.5).attr("fill", "#111").text(t);
  });
}

boxLayout.forEach(drawBox);
kmLayout.forEach(drawKM);
</script>
</body></html>
